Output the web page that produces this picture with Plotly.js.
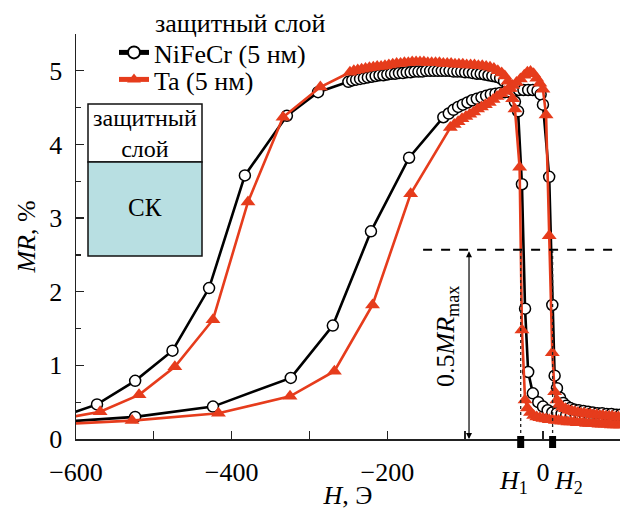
<!DOCTYPE html>
<html><head><meta charset="utf-8">
<script src="https://cdn.plot.ly/plotly-3.0.1.min.js"></script>
<style>body{margin:0;padding:0;background:#fff}#plot{width:620px;height:510px}</style>
</head><body><div id="plot"></div>
<script>
// NiFeCr (5 nm) — branch ending at H1
const nfUpH  = [-622,-573,-524,-476,-429,-383,-329,-289,-250,-245,-240,-235,-230,-225,-220,-215,-210,-205,-200,-195,-190,-185,-180,-175,-170,-165,-160,-155,-150,-145,-140,-135,-130,-125,-120,-115,-110,-105,-100,-95,-90,-85,-80,-75,-70,-65,-60,-55,-50,-45,-41,-36,-32,-27,-23,-19,-13,-6,0,6,12,18,24,30,36,42,48,54,60,66,72,78,84,90,96,102];
const nfUpMR = [0.29,0.47,0.79,1.20,2.05,3.58,4.39,4.71,4.85,4.87,4.88,4.89,4.90,4.91,4.92,4.93,4.94,4.94,4.95,4.96,4.96,4.97,4.97,4.98,4.98,4.99,4.99,4.99,5.00,5.00,5.00,5.00,5.00,5.00,5.00,4.99,4.99,4.99,4.98,4.98,4.97,4.96,4.96,4.95,4.94,4.93,4.92,4.90,4.86,4.80,4.70,4.58,4.45,3.46,1.77,0.91,0.62,0.50,0.44,0.39,0.36,0.35,0.34,0.33,0.33,0.32,0.32,0.31,0.31,0.30,0.30,0.30,0.29,0.29,0.29,0.28];
// NiFeCr (5 nm) — branch ending at H2
const nfLoH  = [-622,-524,-424,-324,-270,-221,-172,-128,-121,-115,-109,-103,-97,-91,-85,-79,-73,-67,-61,-55,-49,-43,-37,-31,-25,-19,-13,-7,-3,0,8,12,15,18,22,26,30,35,40,46,52,58,64,70,76,82,88,94,100];
const nfLoMR = [0.23,0.30,0.44,0.83,1.54,2.82,3.82,4.37,4.42,4.47,4.51,4.54,4.57,4.60,4.62,4.64,4.66,4.68,4.69,4.70,4.71,4.72,4.73,4.74,4.74,4.74,4.74,4.73,4.68,4.54,3.56,1.82,0.86,0.69,0.56,0.49,0.45,0.42,0.40,0.39,0.38,0.37,0.36,0.35,0.35,0.34,0.34,0.33,0.33];
// Ta (5 nm) — branch ending at H1
const taUpH  = [-622,-569,-519,-473,-424,-379,-334,-286,-248,-243,-238,-233,-228,-223,-218,-213,-208,-203,-198,-193,-188,-183,-178,-173,-168,-163,-158,-153,-148,-143,-138,-133,-128,-123,-118,-113,-108,-103,-98,-93,-88,-83,-78,-73,-68,-63,-58,-53,-49,-45,-42,-39,-36,-30,-27,-23,-20,-16,-12,-8,-4,0,4,8,12,16,20,24,28,32,36,40,44,48,52,56,60,64,68,72,76,80,84,88,92,96,100];
const taUpMR = [0.27,0.37,0.60,0.98,1.62,3.22,4.37,4.78,4.98,5.00,5.01,5.02,5.03,5.04,5.05,5.06,5.06,5.07,5.08,5.09,5.10,5.10,5.11,5.11,5.12,5.12,5.12,5.12,5.11,5.11,5.11,5.11,5.10,5.10,5.10,5.09,5.09,5.09,5.08,5.08,5.08,5.07,5.07,5.06,5.05,5.03,5.00,4.97,4.93,4.86,4.76,4.62,4.48,3.69,1.48,0.53,0.42,0.36,0.32,0.30,0.29,0.28,0.27,0.26,0.26,0.25,0.25,0.24,0.24,0.23,0.23,0.23,0.22,0.22,0.22,0.21,0.21,0.21,0.21,0.20,0.20,0.20,0.20,0.19,0.19,0.19,0.19];
// Ta (5 nm) — branch ending at H2
const taLoH  = [-622,-528,-417,-325,-268,-219,-170,-119,-114,-109,-104,-99,-94,-89,-84,-79,-74,-69,-64,-59,-54,-49,-44,-39,-34,-29,-24,-20,-16,-12,-8,-4,0,4,8,12,15,18,21,25,29,33,37,41,45,49,53,57,61,65,69,73,77,81,85,89,93,97,101];
const taLoMR = [0.20,0.25,0.35,0.58,0.92,1.82,3.33,4.23,4.27,4.31,4.35,4.38,4.41,4.44,4.48,4.51,4.54,4.57,4.61,4.65,4.69,4.72,4.76,4.80,4.84,4.89,4.94,4.98,4.99,4.96,4.90,4.83,4.75,4.40,2.76,1.17,0.64,0.53,0.47,0.43,0.41,0.39,0.38,0.37,0.36,0.35,0.35,0.34,0.34,0.33,0.33,0.32,0.32,0.31,0.31,0.31,0.30,0.30,0.30];

const seriesNames = ["NiFeCr (5 нм)", "Ta (5 нм)"];
const legendTitle = "защитный слой";
const xTicks = [-600, -400, -200, 0];
const yTicks = [0, 1, 2, 3, 4, 5];
const H1 = -28.6, H2 = 12.4, halfMR = 2.57, arrowH = -95;
const xRange = [-600, 99], yRange = [0, 5.5];

const BLACK = '#000000', RED = '#e63c1c';
const FONT = "'Liberation Serif', 'Times New Roman', serif";

const blackStyle = {mode:'lines+markers', line:{color:BLACK, width:2.6},
  marker:{symbol:'circle', size:11, color:'#ffffff', line:{color:BLACK, width:1.5}}};
const redStyle = {mode:'lines+markers', line:{color:RED, width:2.6},
  marker:{symbol:'triangle-up', size:13, color:RED, line:{width:0}}};

const traces = [
  Object.assign({x:nfUpH, y:nfUpMR, name:seriesNames[0], showlegend:true, legend:'legend'}, blackStyle),
  Object.assign({x:nfLoH, y:nfLoMR, name:seriesNames[0], showlegend:false}, blackStyle),
  Object.assign({x:taUpH, y:taUpMR, name:seriesNames[1], showlegend:true, legend:'legend2'}, redStyle),
  Object.assign({x:taLoH, y:taLoMR, name:seriesNames[1], showlegend:false}, redStyle)
];

// pixel helpers for decorations (plot area 76..620 x 34..439)
const L=76, R=620, T=34, B=439;
const px = p => (p - L) / (R - L);
const py = p => (B - p) / (B - T);
const hx = h => (h - xRange[0]) / (xRange[1] - xRange[0]);

const axisCommon = {showline:true, linecolor:'#222', linewidth:1.5, ticks:'inside', ticklen:8, tickwidth:1.3,
  tickcolor:'#222', showgrid:false, zeroline:false, mirror:false,
  tickfont:{family:FONT, size:26, color:'#000'}};

const legendCommon = {xanchor:'left', yanchor:'top', bgcolor:'rgba(0,0,0,0)',
  font:{family:FONT, size:26, color:'#000'}, tracegroupgap:0, itemsizing:'constant'};

const layout = {
  width:620, height:510,
  margin:{l:L, r:0, t:T, b:510-B, pad:0},
  paper_bgcolor:'#fff', plot_bgcolor:'#fff',
  font:{family:FONT, color:'#000'},
  showlegend:true,
  legend:Object.assign({x:px(114), y:py(29)}, legendCommon),
  legend2:Object.assign({x:px(114), y:py(56)}, legendCommon),
  xaxis:Object.assign({}, axisCommon, {range:xRange, tickvals:xTicks, ticktext:xTicks.map(v=>v<0?'\u2212'+(-v):String(v)),
    minor:{dtick:100, ticks:'inside', ticklen:8, tickwidth:1.3, tickcolor:'#222'},
    ticklabelstandoff:9,
    title:{text:'<i>H</i>, Э', font:{family:FONT, size:26}, standoff:7}}),
  yaxis:Object.assign({}, axisCommon, {range:yRange, tickvals:yTicks,
    minor:{dtick:0.5, ticks:'inside', ticklen:5, tickwidth:1.3, tickcolor:'#222'},
    ticklabelstandoff:7,
    title:{text:'<i>MR</i>, %', font:{family:FONT, size:26}, standoff:6}}),
  shapes:[
    {type:'rect', xref:'paper', yref:'paper', x0:px(88), x1:px(202), y0:py(162), y1:py(104), fillcolor:'#ffffff', line:{color:'#111', width:1.5}},
    {type:'rect', xref:'paper', yref:'paper', x0:px(88), x1:px(202), y0:py(256), y1:py(162), fillcolor:'#b8dfe2', line:{color:'#111', width:1.5}},
    {type:'line', xref:'x', yref:'y', x0:-154, x1:xRange[1], y0:halfMR, y1:halfMR, line:{color:BLACK, width:1.8, dash:'dash'}},
    {type:'line', xref:'x', yref:'y', x0:H1, x1:H1, y0:0, y1:halfMR, line:{color:'#222', width:1.3, dash:'dot'}},
    {type:'line', xref:'x', yref:'y', x0:H2, x1:H2, y0:0, y1:halfMR, line:{color:'#222', width:1.3, dash:'dot'}},
    {type:'rect', xref:'paper', yref:'paper', x0:hx(H1)-3.5/544, x1:hx(H1)+3.5/544, y0:py(448), y1:py(436), fillcolor:'#000', line:{width:0}},
    {type:'rect', xref:'paper', yref:'paper', x0:hx(H2)-3.5/544, x1:hx(H2)+3.5/544, y0:py(448), y1:py(436), fillcolor:'#000', line:{width:0}}
  ],
  annotations:[
    {xref:'paper', yref:'paper', x:px(153), y:py(24), xanchor:'left', yanchor:'middle', showarrow:false,
      text:legendTitle, font:{family:FONT, size:26, color:'#000'}},
    {xref:'paper', yref:'paper', x:px(145), y:py(133), xanchor:'center', yanchor:'middle', showarrow:false,
      text:'защитный<br>слой', font:{family:FONT, size:24, color:'#000'}},
    {xref:'paper', yref:'paper', x:px(145), y:py(208), xanchor:'center', yanchor:'middle', showarrow:false,
      text:'СК', font:{family:FONT, size:25, color:'#000'}},
    {xref:'x', yref:'y', x:arrowH, y:0, ax:arrowH, ay:halfMR, axref:'x', ayref:'y', text:'',
      showarrow:true, arrowhead:2, startarrowhead:2, arrowside:'end+start', arrowsize:1, arrowwidth:1.2, arrowcolor:'#000'},
    {xref:'paper', yref:'paper', x:px(447), y:py(337), xanchor:'center', yanchor:'middle', showarrow:false, textangle:-90,
      text:'0.5<i>MR</i><sub>max</sub>', font:{family:FONT, size:26, color:'#000'}},
    {xref:'paper', yref:'paper', x:hx(H1)-7/544, y:py(482), xanchor:'center', yanchor:'middle', showarrow:false,
      text:'<i>H</i><sub>1</sub>', font:{family:FONT, size:26, color:'#000'}},
    {xref:'paper', yref:'paper', x:hx(H2)+16/544, y:py(482), xanchor:'center', yanchor:'middle', showarrow:false,
      text:'<i>H</i><sub>2</sub>', font:{family:FONT, size:26, color:'#000'}}
  ]
};

Plotly.newPlot('plot', traces, layout, {displayModeBar:false, staticPlot:true});
</script></body></html>
